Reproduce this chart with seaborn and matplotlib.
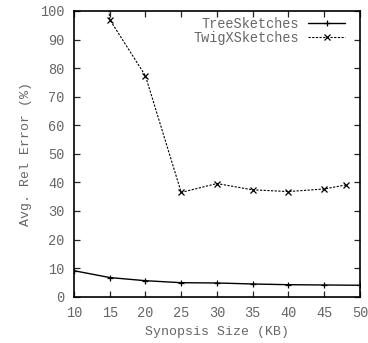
import pandas as pd
import seaborn as sns
import matplotlib.pyplot as plt

# values
sizes = [10, 15, 20, 25, 30, 35, 40, 45, 50]
tree_err = [9.1, 6.7, 5.6, 4.9, 4.8, 4.45, 4.2, 4.1, 4.0]

twig_sizes = [10, 15, 20, 25, 30, 35, 40, 45, 48]
twig_err = [250, 97.0, 77.3, 36.5, 39.6, 37.4, 36.8, 37.7, 39.1]

x_ticks = [10, 15, 20, 25, 30, 35, 40, 45, 50]
y_ticks = [0, 10, 20, 30, 40, 50, 60, 70, 80, 90, 100]

sns.set_style("ticks")
plt.rcParams['font.family'] = ['Liberation Mono', 'DejaVu Sans Mono']

grey = '#666666'

fig = plt.figure(figsize=(3.68, 3.43), dpi=100)
ax = fig.add_axes([0.201, 0.135, 0.777, 0.833])

tree = pd.DataFrame({'size': sizes, 'err': tree_err})
twig = pd.DataFrame({'size': twig_sizes, 'err': twig_err})

sns.lineplot(data=tree, x='size', y='err', ax=ax, color='black', lw=1.0,
             marker='+', markersize=5, mew=0.9, mec='black',
             label='TreeSketches')
sns.lineplot(data=twig, x='size', y='err', ax=ax, color='black', lw=0.8,
             marker='x', markersize=4, mew=0.9, mec='black',
             label='TwigXSketches')
ax.lines[1].set_dashes((2.0, 1.3))

ax.set_xlim(10, 50)
ax.set_ylim(0, 100)
ax.set_xticks(x_ticks)
ax.set_yticks(y_ticks)

ax.set_xlabel('Synopsis Size (KB)', fontsize=9.5, color=grey, labelpad=4)
ax.set_ylabel('Avg. Rel Error (%)', fontsize=9.5, color=grey, labelpad=6)

ax.tick_params(direction='in', length=4, width=0.9, top=True, right=True,
               labelsize=9.8, labelcolor=grey, pad=7)
for s in ax.spines.values():
    s.set_linewidth(1.2)
    s.set_color('black')

leg = ax.legend(loc='upper right', bbox_to_anchor=(0.948, 0.978),
                frameon=False, markerfirst=False, fontsize=9.8,
                handlelength=2.7, borderaxespad=0, borderpad=0,
                labelspacing=0.0, handletextpad=0.7)
for t in leg.get_texts():
    t.set_color(grey)

fig.savefig('out.png', dpi=100)
